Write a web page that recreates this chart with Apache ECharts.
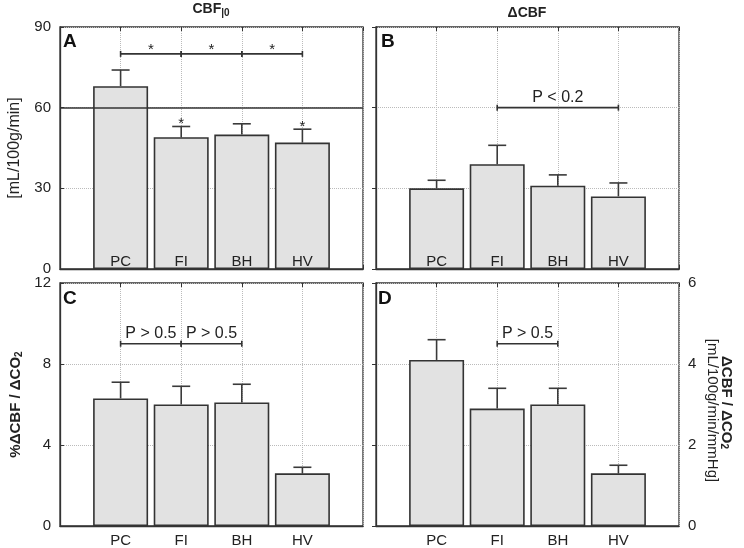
<!DOCTYPE html>
<html>
<head>
<meta charset="utf-8">
<script src="https://cdn.jsdelivr.net/npm/echarts@6/dist/echarts.min.js"></script>
<style>html,body{margin:0;padding:0;background:#fff}#c{width:744px;height:548px}</style>
</head>
<body>
<div id="c"></div>
<script>
// ---- data ----
const categories = ['PC', 'FI', 'BH', 'HV'];
const cbf0Mean = [68, 49, 50, 47];
const cbf0Sd = [6, 4, 4, 5];
const cbf0RefLine = 60;
const dCbfMean = [30, 39, 31, 27];
const dCbfSd = [3, 7, 4, 5];
const pctMean = [6.3, 6.0, 6.1, 2.6];
const pctSd = [0.8, 0.9, 0.9, 0.3];
const absMean = [4.1, 2.9, 3.0, 1.3];
const absSd = [0.5, 0.5, 0.4, 0.2];
// brackets: [from category index (1-based), to category index, y value, label]
const bracketsA = [[1, 2, 80, '*'], [2, 3, 80, '*'], [3, 4, 80, '*']];
const bracketsB = [[2, 4, 60, 'P < 0.2']];
const bracketsC = [[1, 2, 9, 'P > 0.5'], [2, 3, 9, 'P > 0.5']];
const bracketsD = [[2, 3, 4.5, 'P > 0.5']];
// stars above individual bars in A: [category index, y value]
const starsA = [[2, 55], [4, 54]];
const yTicksA = [0, 90, 30];
const yTicksB = [0, 90, 30];
const yTicksC = [0, 12, 4];
const yTicksD = [0, 6, 2];

const FONT = '"Liberation Sans", Arial, Helvetica, sans-serif';
const DARK = '#333';

const chart = echarts.init(document.getElementById('c'), null, {renderer: 'canvas'});

const grids = [
  {left: 60, top: 27, width: 303, height: 242},
  {left: 376, top: 27, width: 303, height: 242},
  {left: 60, top: 283, width: 303, height: 243},
  {left: 376, top: 283, width: 303, height: 243}
].map(g => Object.assign({show: true, borderColor: DARK, borderWidth: 1.3, backgroundColor: '#fff'}, g));

const xAxes = [0, 1, 2, 3].map(i => ({
  type: 'value', gridIndex: i, min: 0, max: 5, interval: 1,
  axisLine: {show: true, lineStyle: {color: DARK, width: 1.3}},
  axisTick: {show: true, inside: true, length: 4, lineStyle: {color: DARK}},
  axisLabel: {
    show: i >= 2, margin: 7,
    fontFamily: FONT, fontSize: 15, color: '#222',
    showMinLabel: false, showMaxLabel: false,
    formatter: v => categories[v - 1] || ''
  },
  splitLine: {show: true, lineStyle: {type: 'dotted', color: '#bbb'}}
})).concat([0, 1, 2, 3].map(i => ({
  type: 'value', gridIndex: i, min: 0, max: 5, interval: 1, position: 'top',
  axisLine: {show: false},
  axisTick: {show: true, inside: true, length: 4, lineStyle: {color: DARK}},
  axisLabel: {show: false},
  splitLine: {show: false}
})));

function yAx(i, ticks, pos, showLabel, extra) {
  return Object.assign({
    type: 'value', gridIndex: i, min: ticks[0], max: ticks[1], interval: ticks[2],
    position: pos,
    axisLine: {show: true, lineStyle: {color: DARK, width: 1.3}},
    axisTick: {show: true, inside: true, length: 4, lineStyle: {color: DARK}},
    axisLabel: {show: showLabel, fontFamily: FONT, fontSize: 15, color: '#222', margin: 9},
    splitLine: {show: true, lineStyle: {type: 'dotted', color: '#bbb'}}
  }, extra || {});
}

const yAxes = [
  yAx(0, yTicksA, 'left', true, {
    name: '[mL/100g/min]', nameLocation: 'middle', nameGap: 37,
    nameTextStyle: {fontFamily: FONT, fontSize: 16, color: '#222'}
  }),
  yAx(1, yTicksB, 'right', false),
  yAx(2, yTicksC, 'left', true, {
    name: '{b|%ΔCBF / ΔCO}{s|2}', nameLocation: 'middle', nameGap: 36,
    nameTextStyle: {
      fontFamily: FONT, color: '#222',
      rich: {
        b: {fontFamily: FONT, fontSize: 15, fontWeight: 'bold', color: '#222'},
        s: {fontFamily: FONT, fontSize: 10, fontWeight: 'bold', color: '#222', verticalAlign: 'bottom', padding: [6, 0, 0, 0]}
      }
    }
  }),
  yAx(3, yTicksD, 'right', true, {
    name: '{b|ΔCBF / ΔCO}{s|2}\n{n|[mL/100g/min/mmHg]}', nameLocation: 'middle', nameGap: 26, nameRotate: -90,
    nameTextStyle: {
      fontFamily: FONT, color: '#222', padding: [0, 0, 0, 12],
      rich: {
        b: {fontFamily: FONT, fontSize: 15, fontWeight: 'bold', color: '#222', lineHeight: 14},
        s: {fontFamily: FONT, fontSize: 10, fontWeight: 'bold', color: '#222', verticalAlign: 'bottom', padding: [5, 16, 0, 0]},
        n: {fontFamily: FONT, fontSize: 15, color: '#222', lineHeight: 14}
      }
    }
  })
];

function barSeries(i, means, insideLabels, extra) {
  return Object.assign({
    type: 'bar', xAxisIndex: i, yAxisIndex: i,
    data: means.map((v, k) => [k + 1, v]),
    barWidth: 55,
    itemStyle: {color: '#e2e2e2', borderColor: DARK, borderWidth: 1.6},
    label: {show: insideLabels, position: 'insideBottom', distance: 0,
      formatter: p => categories[p.dataIndex], fontFamily: FONT, fontSize: 15, color: '#222'},
    z: 2
  }, extra || {});
}

function errSeries(i, means, sds) {
  return {
    type: 'custom', xAxisIndex: i, yAxisIndex: i, z: 3,
    data: means.map((v, k) => [k + 1, v, v + sds[k]]),
    renderItem: (params, api) => {
      const p0 = api.coord([api.value(0), api.value(1)]);
      const p1 = api.coord([api.value(0), api.value(2)]);
      const st = {stroke: '#3a3a3a', lineWidth: 1.6};
      return {type: 'group', children: [
        {type: 'line', shape: {x1: p0[0], y1: p0[1], x2: p1[0], y2: p1[1]}, style: st},
        {type: 'line', shape: {x1: p1[0] - 9, y1: p1[1], x2: p1[0] + 9, y2: p1[1]}, style: st}
      ]};
    }
  };
}

function bracketSeries(i, brs, star) {
  return {
    type: 'custom', xAxisIndex: i, yAxisIndex: i, z: 4,
    data: brs.map(b => [b[0], b[1], b[2]]),
    renderItem: (params, api) => {
      const a = api.coord([api.value(0), api.value(2)]);
      const b = api.coord([api.value(1), api.value(2)]);
      const label = brs[params.dataIndex][3];
      const st = {stroke: '#333', lineWidth: 1.6};
      return {type: 'group', children: [
        {type: 'line', shape: {x1: a[0], y1: a[1], x2: b[0], y2: b[1]}, style: st},
        {type: 'line', shape: {x1: a[0], y1: a[1] - 3, x2: a[0], y2: a[1] + 3}, style: st},
        {type: 'line', shape: {x1: b[0], y1: b[1] - 3, x2: b[0], y2: b[1] + 3}, style: st},
        {type: 'text', style: {
          text: label, x: (a[0] + b[0]) / 2, y: star ? a[1] - 4 : a[1] - 2,
          align: 'center', verticalAlign: star ? 'middle' : 'bottom',
          font: star ? '15px ' + FONT : '16px ' + FONT, fill: '#222'
        }}
      ]};
    }
  };
}

function starSeries(i, pts) {
  return {
    type: 'custom', xAxisIndex: i, yAxisIndex: i, z: 4,
    data: pts,
    renderItem: (params, api) => {
      const p = api.coord([api.value(0), api.value(1)]);
      return {type: 'text', style: {text: '*', x: p[0], y: p[1] + 3, align: 'center', verticalAlign: 'middle', font: '15px ' + FONT, fill: '#222'}};
    }
  };
}

const letterStyle = {fontFamily: FONT, fontSize: 19, fontWeight: 'bold', color: '#111'};
const option = {
  backgroundColor: '#fff',
  animation: false,
  title: [
    {text: 'CBF{s||0}', left: 211, top: 1, textAlign: 'center', padding: 0,
     textStyle: {fontFamily: FONT, fontSize: 14, fontWeight: 'bold', color: '#222',
       rich: {s: {fontFamily: FONT, fontSize: 10, fontWeight: 'bold', color: '#222', verticalAlign: 'bottom', padding: [7, 0, 0, 0]}}}},
    {text: 'ΔCBF', left: 527, top: 6, textAlign: 'center', padding: 0,
     textStyle: {fontFamily: FONT, fontSize: 14, fontWeight: 'bold', color: '#222'}},
    {text: 'A', left: 63, top: 32, padding: 0, textStyle: letterStyle},
    {text: 'B', left: 381, top: 32, padding: 0, textStyle: letterStyle},
    {text: 'C', left: 63, top: 289, padding: 0, textStyle: letterStyle},
    {text: 'D', left: 378, top: 289, padding: 0, textStyle: letterStyle}
  ],
  grid: grids,
  xAxis: xAxes,
  yAxis: yAxes,
  series: [
    barSeries(0, cbf0Mean, true, {
      markLine: {silent: true, symbol: 'none', label: {show: false},
        lineStyle: {color: '#333', type: 'solid', width: 1.5},
        data: [{yAxis: cbf0RefLine}]}
    }),
    errSeries(0, cbf0Mean, cbf0Sd),
    bracketSeries(0, bracketsA, true),
    starSeries(0, starsA),
    barSeries(1, dCbfMean, true),
    errSeries(1, dCbfMean, dCbfSd),
    bracketSeries(1, bracketsB, false),
    barSeries(2, pctMean, false),
    errSeries(2, pctMean, pctSd),
    bracketSeries(2, bracketsC, false),
    barSeries(3, absMean, false),
    errSeries(3, absMean, absSd),
    bracketSeries(3, bracketsD, false)
  ]
};
chart.setOption(option);
</script>
</body>
</html>
